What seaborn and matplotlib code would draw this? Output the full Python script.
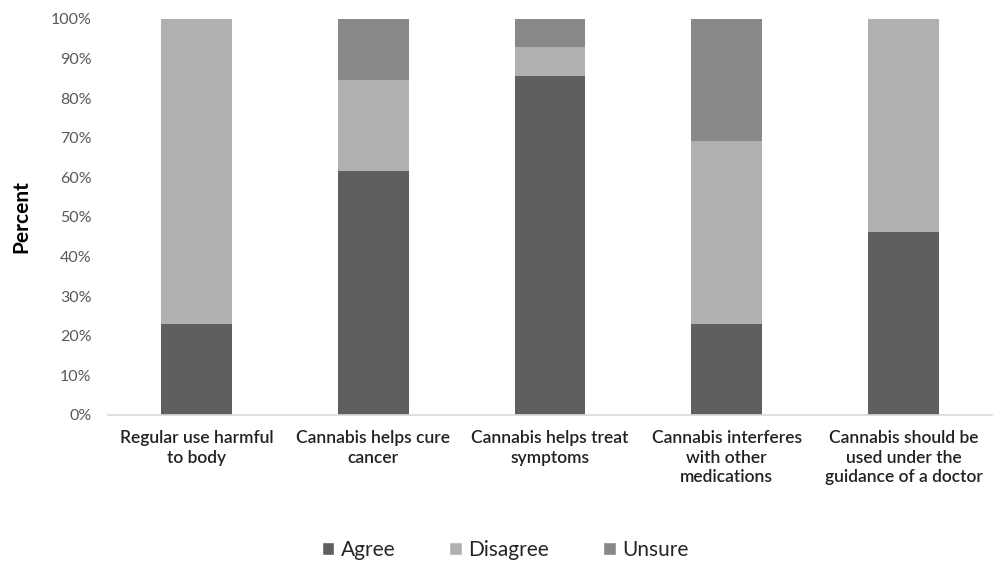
import pandas as pd
import matplotlib.pyplot as plt
import seaborn as sns
from matplotlib.patches import Patch
from matplotlib.ticker import PercentFormatter

statements = [
    "Regular use harmful\nto body",
    "Cannabis helps cure\ncancer",
    "Cannabis helps treat\nsymptoms",
    "Cannabis interferes\nwith other\nmedications",
    "Cannabis should be\nused under the\nguidance of a doctor",
]
agree = [23.1, 61.5, 85.7, 23.1, 46.2]
disagree = [76.9, 23.1, 7.2, 46.1, 53.8]
unsure = [0.0, 15.4, 7.1, 30.8, 0.0]

responses = ["Agree", "Disagree", "Unsure"]
colors = {"Agree": "#5f5f5f", "Disagree": "#b0b0b0", "Unsure": "#888888"}

df = pd.DataFrame({"statement": statements, "Agree": agree,
                   "Disagree": disagree, "Unsure": unsure})
# cumulative tops for stacking
df["top_Agree"] = df["Agree"]
df["top_Disagree"] = df["Agree"] + df["Disagree"]
df["top_Unsure"] = df["top_Disagree"] + df["Unsure"]

sns.set_style("white")
plt.rcParams["font.family"] = ["Lato", "DejaVu Sans"]

fig = plt.figure(figsize=(10, 5.62), dpi=100)
ax = fig.add_axes([0.108, 0.2616, 0.884, 0.7046])

# draw tallest first so the lower segments sit on top
for r in reversed(responses):
    sns.barplot(data=df, x="statement", y="top_" + r, color=colors[r],
                width=0.4, saturation=1, ax=ax, linewidth=0)

ax.set_ylim(0, 100)
ax.set_xlim(-0.5, 4.5)
ax.set_yticks(range(0, 101, 10))
ax.yaxis.set_major_formatter(PercentFormatter(decimals=0))
ax.set_ylabel("Percent", fontsize=15, fontweight="bold", color="black", labelpad=14)
ax.set_xlabel("")

sns.despine(ax=ax, left=True)
ax.spines["bottom"].set_color("#d9d9d9")
ax.spines["bottom"].set_linewidth(1.2)
ax.tick_params(axis="y", length=0, labelsize=11.5, labelcolor="#595959", pad=12)
ax.tick_params(axis="x", length=0, labelsize=12.5, labelcolor="#222222", pad=11)
for lbl in ax.get_xticklabels():
    lbl.set_fontweight("semibold")
    lbl.set_linespacing(1.25)

handles = [Patch(facecolor=colors[r], label=r) for r in responses]
fig.legend(handles=handles, loc="lower center", ncol=3, frameon=False,
           bbox_to_anchor=(0.505, -0.03), fontsize=15, handlelength=0.6,
           handleheight=0.6, columnspacing=2.6, handletextpad=0.3)

fig.savefig("out.png", dpi=100)
